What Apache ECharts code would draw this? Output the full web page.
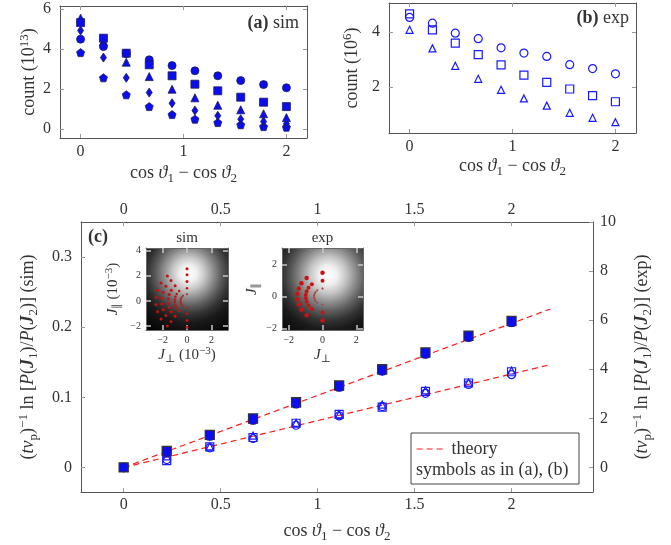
<!DOCTYPE html>
<html><head><meta charset="utf-8">
<script src="https://cdn.jsdelivr.net/npm/echarts@6/dist/echarts.min.js"></script>
<style>html,body{margin:0;padding:0;background:#fff}#c{width:671px;height:545px}</style>
</head><body><div id="c"></div>
<script>
// ---------- data ----------
const xVals = [0, 0.222, 0.444, 0.667, 0.889, 1.111, 1.333, 1.556, 1.778, 2];

// (a) sim counts (10^13)
const simCircleCount   = [4.5, 4.13, 3.78, 3.47, 3.18, 2.92, 2.67, 2.43, 2.23, 2.07];
const simSquareCount   = [5.33, 4.55, 3.8, 3.22, 2.67, 2.25, 1.92, 1.6, 1.35, 1.13];
const simTriangleCount = [5.55, 4.38, 3.35, 2.63, 2.0, 1.57, 1.2, 0.97, 0.77, 0.58];
const simDiamondCount  = [4.93, 3.58, 2.57, 1.83, 1.3, 0.93, 0.67, 0.5, 0.38, 0.27];
const simPentagonCount = [3.83, 2.57, 1.72, 1.13, 0.73, 0.5, 0.33, 0.22, 0.13, 0.1];

// (b) exp counts (10^6)
const expCircleCount   = [4.52, 4.31, 3.95, 3.75, 3.42, 3.23, 3.11, 2.81, 2.67, 2.48];
const expSquareCount   = [4.65, 4.07, 3.59, 3.17, 2.8, 2.43, 2.17, 1.93, 1.69, 1.47];
const expTriangleCount = [4.07, 3.4, 2.77, 2.3, 1.9, 1.59, 1.33, 1.07, 0.89, 0.73];

// (c) scaled log ratios
const lnSimCircle   = [0, 0.021, 0.044, 0.067, 0.090, 0.114, 0.137, 0.161, 0.185, 0.206];
const lnSimSquare   = [0, 0.0235, 0.0465, 0.070, 0.093, 0.117, 0.140, 0.164, 0.188, 0.209];
const lnSimTriangle = [0, 0.023, 0.046, 0.069, 0.092, 0.116, 0.139, 0.163, 0.187, 0.208];
const lnSimDiamond  = [0, 0.0225, 0.0455, 0.0685, 0.0915, 0.1155, 0.1385, 0.1625, 0.1865, 0.2075];
const lnSimPentagon = [0, 0.022, 0.045, 0.068, 0.091, 0.115, 0.138, 0.162, 0.186, 0.207];
const lnExpCircle   = [0, 0.32, 0.80, 1.18, 1.72, 2.10, 2.48, 3.02, 3.38, 3.78];
const lnExpSquare   = [0, 0.28, 0.84, 1.22, 1.80, 2.16, 2.46, 3.10, 3.44, 3.90];
const lnExpTriangle = [0, 0.45, 0.86, 1.30, 1.82, 2.16, 2.56, 3.14, 3.46, 3.95];

const theoryX   = [0, 0.55, 1.1, 1.65, 2.2];
const theorySim = [0, 0.0565, 0.113, 0.1695, 0.226];
const theoryExp = [0, 1.05, 2.1, 3.14, 4.19];

// insets: J_perp, J_par (10^-3)
const insetSimR1 = [[0,2.56],[-1.61,1.99],[-2.13,1.42],[-2.41,0.85],[-2.54,0.28],[-2.54,-0.28],[-2.41,-0.85],[-2.13,-1.42],[-1.61,-1.99],[0,-2.56]];
const insetSimR2 = [[0,2.08],[-1.31,1.62],[-1.73,1.16],[-1.96,0.69],[-2.07,0.23],[-2.07,-0.23],[-1.96,-0.69],[-1.73,-1.16],[-1.31,-1.62],[0,-2.08]];
const insetSimR3 = [[0,1.55],[-0.97,1.21],[-1.29,0.86],[-1.46,0.52],[-1.54,0.17],[-1.54,-0.17],[-1.46,-0.52],[-1.29,-0.86],[-0.97,-1.21],[0,-1.55]];
const insetSimR4 = [[0,1.01],[-0.64,0.79],[-0.84,0.56],[-0.95,0.34],[-1.0,0.11],[-1.0,-0.11],[-0.95,-0.34],[-0.84,-0.56],[-0.64,-0.79],[0,-1.01]];
const insetSimR5 = [[0,0.53],[-0.33,0.41],[-0.44,0.29],[-0.5,0.18],[-0.53,0.06],[-0.53,-0.06],[-0.5,-0.18],[-0.44,-0.29],[-0.33,-0.41],[0,-0.53]];
const insetExpR1 = [[0,1.5],[-0.94,1.17],[-1.25,0.83],[-1.41,0.5],[-1.49,0.17],[-1.49,-0.17],[-1.41,-0.5],[-1.25,-0.83],[-0.94,-1.17],[0,-1.5]];
const insetExpR2 = [[0,1.0],[-0.63,0.78],[-0.83,0.56],[-0.94,0.33],[-0.99,0.11],[-0.99,-0.11],[-0.94,-0.33],[-0.83,-0.56],[-0.63,-0.78],[0,-1.0]];
const insetExpR3 = [[0,0.5],[-0.31,0.39],[-0.42,0.28],[-0.47,0.17],[-0.5,0.06],[-0.5,-0.06],[-0.47,-0.17],[-0.42,-0.28],[-0.31,-0.39],[0,-0.5]];

// tick values
const ticksAx = [0, 1, 2], ticksAy = [0, 2, 4, 6];
const ticksBx = [0, 1, 2], ticksBy = [2, 4];
const ticksCx = [0, 0.5, 1, 1.5, 2], ticksCyL = [0, 0.1, 0.2, 0.3], ticksCyR = [0, 2, 4, 6, 8, 10];
const ticksSx = [-2, 0, 2], ticksSy = [-2, 0, 2, 4];
const ticksEx = [-2, 0, 2], ticksEy = [-2, 0, 2];

// ---------- styles ----------
const TC = '#333';
const FF = '"Liberation Serif","DejaVu Serif",serif';
function mkRich(fs) {
  const lh = Math.round(fs * 1.25), ss = Math.round(fs * 0.7);
  const base = {fontFamily: FF, fontSize: fs, color: TC, lineHeight: lh, verticalAlign: 'middle', fontWeight: 'normal', fontStyle: 'normal', textBorderWidth: 0};
  return {
    r: Object.assign({}, base),
    i: Object.assign({}, base, {fontStyle: 'italic'}),
    b: Object.assign({}, base, {fontStyle: 'italic', fontWeight: 'bold'}),
    pb: Object.assign({}, base, {fontWeight: 'bold'}),
    sup: {fontFamily: FF, fontSize: ss, color: TC, lineHeight: ss, verticalAlign: 'top', fontWeight: 'normal', textBorderWidth: 0},
    sub: {fontFamily: FF, fontSize: ss, color: TC, lineHeight: ss, verticalAlign: 'bottom', fontWeight: 'normal', textBorderWidth: 0},
    par: {fontFamily: '"DejaVu Sans",sans-serif', fontSize: ss, color: TC, lineHeight: ss, verticalAlign: 'bottom', fontWeight: 'normal', textBorderWidth: 0}
  };
}
const R18 = mkRich(18), R15 = mkRich(15);
const neg = v => (v < 0 ? '\u2212' + Math.abs(v) : String(v));

function mkAxis(gi, pos, min, max, ticks, showLabels, margin, o) {
  o = o || {};
  const a = {
    type: 'value', gridIndex: gi, position: pos, min: min, max: max,
    splitLine: {show: false},
    axisLine: {show: true, onZero: false, lineStyle: {color: o.lineColor || '#555', width: 1}},
    axisTick: {show: true, inside: true, length: o.tickLen || 4, customValues: ticks,
               lineStyle: {color: o.tickColor || '#999', width: o.tickWidth || 1}},
    axisLabel: {show: showLabels, customValues: ticks, margin: margin, color: TC, fontFamily: FF,
                fontSize: o.fontSize || 16, formatter: neg}
  };
  if (o.name !== undefined) {
    a.name = o.name; a.nameLocation = 'middle'; a.nameGap = o.nameGap;
    a.nameRotate = o.nameRotate || 0;
    a.nameTextStyle = {rich: o.rich || R18, fontFamily: FF, fontSize: 18, color: TC};
  }
  return a;
}

const xName = '{r|cos }{i|ϑ}{sub|1}{r| \u2212 cos }{i|ϑ}{sub|2}';
const insetTick = {tickColor: '#c8c8c8', tickLen: 5, tickWidth: 1.5, fontSize: 10, lineColor: '#666'};

function bg(cx, cy, r) {
  return new echarts.graphic.RadialGradient(cx, cy, r, [
    {offset: 0, color: '#ffffff'}, {offset: 0.125, color: '#f0f0f0'},
    {offset: 0.25, color: '#c5c5c5'}, {offset: 0.375, color: '#8f8f8f'},
    {offset: 0.5, color: '#5c5c5c'}, {offset: 0.625, color: '#333333'},
    {offset: 0.75, color: '#1a1a1a'}, {offset: 1, color: '#050505'}
  ]);
}

const pair = (xs, ys) => xs.map((x, i) => [x, ys[i]]);
const PENT = 'path://M50,0 L97.6,34.5 L79.4,90.5 L20.6,90.5 L2.4,34.5 Z';
const fillA = {color: '#0c0cf0', borderColor: '#1c1c5c', borderWidth: 0.8, opacity: 1};
const fillC = {color: '#0c0cf0', borderColor: '#333', borderWidth: 1.3, opacity: 1};
const hollow = {color: 'rgba(255,255,255,0)', borderColor: '#1a1aff', borderWidth: 1.2, opacity: 1};

function sc(name, xi, yi, data, symbol, size, style, z) {
  return {type: 'scatter', name: name, xAxisIndex: xi, yAxisIndex: yi, data: data,
          symbol: symbol, symbolSize: size, itemStyle: Object.assign({opacity: 1}, style), z: z || 3, silent: true};
}

function label(x, y, text, align) {
  return {type: 'text', x: x, y: y, z: 10, silent: true,
          style: {text: text, rich: R18, align: align, verticalAlign: 'middle', fill: TC,
                  font: 'normal 18px ' + FF, stroke: null, lineWidth: 0}};
}

const option = {
  animation: false,
  backgroundColor: '#fff',
  grid: [
    {left: 60, top: 6, width: 247, height: 132},
    {left: 389, top: 3, width: 247, height: 130},
    {left: 81, top: 222, width: 512, height: 270},
    {left: 146, top: 248, width: 82, height: 82, show: true, borderWidth: 0, backgroundColor: bg(0.52, 0.31, 0.8)},
    {left: 282, top: 248, width: 81, height: 82, show: true, borderWidth: 0, backgroundColor: bg(0.57, 0.33, 0.9)}
  ],
  xAxis: [
    mkAxis(0, 'bottom', -0.2, 2.2, ticksAx, true, 6, {name: xName, nameGap: 24}),
    mkAxis(0, 'top', -0.2, 2.2, ticksAx, false, 6),
    mkAxis(1, 'bottom', -0.2, 2.2, ticksBx, true, 6, {name: xName, nameGap: 22}),
    mkAxis(1, 'top', -0.2, 2.2, ticksBx, false, 6),
    mkAxis(2, 'bottom', -0.22, 2.42, ticksCx, true, 5, {name: xName, nameGap: 28}),
    mkAxis(2, 'top', -0.22, 2.42, ticksCx, true, 4),
    mkAxis(3, 'bottom', -3.36, 3.36, ticksSx, true, 5, Object.assign({name: '{i|J}{sub|⊥}{r| (10}{sup|\u22123}{r|)}', nameGap: 16, rich: R15}, insetTick)),
    mkAxis(3, 'top', -3.36, 3.36, ticksSx, false, 5, Object.assign({name: '{r|sim}', nameGap: 0, rich: R15}, insetTick)),
    mkAxis(4, 'bottom', -2.4, 2.4, ticksEx, true, 5, Object.assign({name: '{i|J}{sub|⊥}', nameGap: 16, rich: R15}, insetTick)),
    mkAxis(4, 'top', -2.4, 2.4, ticksEx, false, 5, Object.assign({name: '{r|exp}', nameGap: 0, rich: R15}, insetTick))
  ],
  yAxis: [
    mkAxis(0, 'left', -0.44, 6.16, ticksAy, true, 9, {name: '{r|count (10}{sup|13}{r|)}', nameGap: 19, nameRotate: 90}),
    mkAxis(0, 'right', -0.44, 6.16, ticksAy, false, 9),
    mkAxis(1, 'left', 0.34, 5.04, ticksBy, true, 9, {name: '{r|count (10}{sup|6}{r|)}', nameGap: 25, nameRotate: 90}),
    mkAxis(1, 'right', 0.34, 5.04, ticksBy, false, 9),
    mkAxis(2, 'left', -0.035, 0.35, ticksCyL, true, 9, {name: '{r|(}{i|tv}{sub|p}{r|)}{sup|\u22121}{r| ln [}{i|P}{r|(}{b|J}{sub|1}{r|)/}{i|P}{r|(}{b|J}{sub|2}{r|)] (sim)}', nameGap: 41, nameRotate: 90}),
    mkAxis(2, 'right', -1, 10, ticksCyR, true, 7, {name: '{r|(}{i|tv}{sub|p}{r|)}{sup|\u22121}{r| ln [}{i|P}{r|(}{b|J}{sub|1}{r|)/}{i|P}{r|(}{b|J}{sub|2}{r|)] (exp)}', nameGap: 38, nameRotate: 90}),
    mkAxis(3, 'left', -2.3, 4.2, ticksSy, true, 5, Object.assign({name: '{i|J}{par|\u2225}{r| (10}{sup|\u22123}{r|)}', nameGap: 23, nameRotate: 90, rich: R15}, insetTick)),
    mkAxis(3, 'right', -2.3, 4.2, ticksSy, false, 5, insetTick),
    mkAxis(4, 'left', -2.1, 3.05, ticksEy, true, 5, Object.assign({name: '{i|J}{par|\u2225}', nameGap: 20, nameRotate: 90, rich: R15}, insetTick)),
    mkAxis(4, 'right', -2.1, 3.05, ticksEy, false, 5, insetTick)
  ],
  legend: {
    data: [{name: 'theory'}], left: 416, top: 440, padding: 0, itemWidth: 30, itemHeight: 14,
    itemStyle: {opacity: 0},
    lineStyle: {color: '#ff1a1a', width: 1.2, type: [6, 4]},
    textStyle: {fontFamily: FF, fontSize: 18, color: TC}, selectedMode: false
  },
  graphic: [
    label(299, 23, '{pb|(a)} {r|sim}', 'right'),
    label(629, 18.5, '{pb|(b)} {r|exp}', 'right'),
    label(88, 237, '{pb|(c)}', 'left'),
    {type: 'rect', z: 1, silent: true, shape: {x: 411, y: 433, width: 168, height: 51}, style: {fill: '#fff', stroke: '#444', lineWidth: 1}},
    label(416, 470, '{r|symbols as in (a), (b)}', 'left')
  ],
  series: [
    // (a)
    sc('a-pent', 0, 0, pair(xVals, simPentagonCount), PENT, 8, fillA),
    sc('a-diam', 0, 0, pair(xVals, simDiamondCount), 'diamond', [6, 9], fillA),
    sc('a-tri', 0, 0, pair(xVals, simTriangleCount), 'triangle', 8, fillA),
    sc('a-circ', 0, 0, pair(xVals, simCircleCount), 'circle', 8, fillA),
    sc('a-sq', 0, 0, pair(xVals, simSquareCount), 'rect', 8, fillA),
    // (b)
    sc('b-circ', 2, 2, pair(xVals, expCircleCount), 'circle', 8, hollow),
    sc('b-sq', 2, 2, pair(xVals, expSquareCount), 'rect', 8, hollow),
    sc('b-tri', 2, 2, pair(xVals, expTriangleCount), 'triangle', 7, hollow),
    // (c) theory
    {type: 'line', name: 'theory', xAxisIndex: 4, yAxisIndex: 4, data: pair(theoryX, theorySim), symbol: 'none', z: 1,
     lineStyle: {color: '#ff1a1a', width: 1.2, type: [6, 4]}, itemStyle: {color: '#ff1a1a'}, silent: true},
    {type: 'line', name: 'theory', xAxisIndex: 4, yAxisIndex: 5, data: pair(theoryX, theoryExp), symbol: 'none', z: 1,
     lineStyle: {color: '#ff1a1a', width: 1.2, type: [6, 4]}, itemStyle: {color: '#ff1a1a'}, silent: true},
    // (c) exp
    sc('c-e-circ', 4, 5, pair(xVals, lnExpCircle), 'circle', 8, hollow),
    sc('c-e-sq', 4, 5, pair(xVals, lnExpSquare), 'rect', 8, hollow),
    sc('c-e-tri', 4, 5, pair(xVals, lnExpTriangle), 'triangle', 7, hollow),
    // (c) sim
    sc('c-s-pent', 4, 4, pair(xVals, lnSimPentagon), PENT, 8, fillC),
    sc('c-s-diam', 4, 4, pair(xVals, lnSimDiamond), 'diamond', [6, 9], fillC),
    sc('c-s-tri', 4, 4, pair(xVals, lnSimTriangle), 'triangle', 8, fillC),
    sc('c-s-sq', 4, 4, pair(xVals, lnSimSquare), 'rect', 9, fillC),
    sc('c-s-circ', 4, 4, pair(xVals, lnSimCircle), 'circle', 8, {color: '#0c0cf0', borderWidth: 0}),
    // insets
    sc('s1', 6, 6, insetSimR1, 'circle', 3, {color: '#c81010'}, 5),
    sc('s2', 6, 6, insetSimR2, 'circle', 3, {color: '#c81010'}, 5),
    sc('s3', 6, 6, insetSimR3, 'circle', 3, {color: '#c81010'}, 5),
    sc('s4', 6, 6, insetSimR4, 'circle', 2.5, {color: '#c81010'}, 5),
    sc('s5', 6, 6, insetSimR5, 'circle', 2, {color: '#b02020'}, 5),
    sc('e1', 8, 8, insetExpR1, 'circle', 4.5, {color: '#d01010'}, 5),
    sc('e2', 8, 8, insetExpR2, 'circle', 4, {color: '#d01010'}, 5),
    sc('e3', 8, 8, insetExpR3, 'circle', 2.2, {color: '#b04040'}, 5)
  ]
};

const chart = echarts.init(document.getElementById('c'), null, {renderer: 'canvas'});
chart.setOption(option);
</script>
</body></html>
